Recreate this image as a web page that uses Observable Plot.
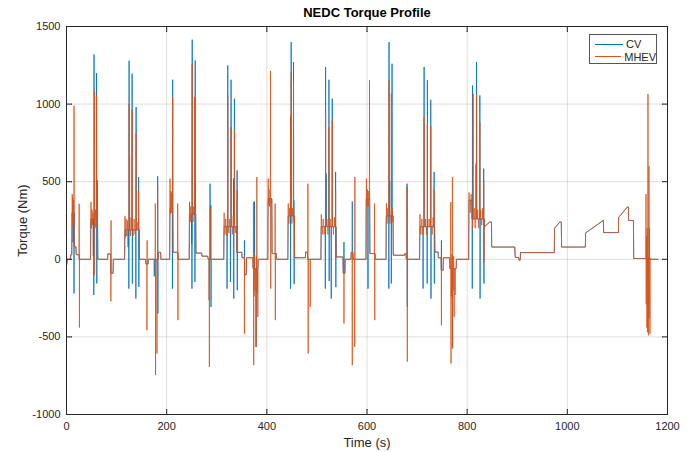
<!DOCTYPE html>
<html>
<head>
<meta charset="utf-8">
<script src="https://cdn.jsdelivr.net/npm/d3@7"></script>
<script src="https://cdn.jsdelivr.net/npm/@observablehq/plot@0.6"></script>
<style>
  body { margin: 0; background: #fff; }
  #wrap { position: relative; width: 697px; height: 452px; font-family: "Liberation Sans", Arial, Helvetica, sans-serif; }
  #legend { position: absolute; left: 589px; top: 34px; width: 68px; height: 30px; box-sizing: border-box;
            border: 1px solid #555; background: #fff; font-size: 11px; color: #262626; padding-top: 3px; }
  .row { display: flex; align-items: center; height: 12.5px; }
  .sw { width: 28px; height: 0; margin-left: 5px; margin-right: 3px; }
</style>
</head>
<body>
<div id="wrap"></div>
<script>
// ---------- data ----------
const seriesNames = ["CV", "MHEV"];
const seriesColors = ["#0072BD", "#D95319"];
const xTicks = [0, 200, 400, 600, 800, 1000, 1200];
const yTicks = [-1000, -500, 0, 500, 1000, 1500];
const title = "NEDC Torque Profile";
const xLabel = "Time (s)";
const yLabel = "Torque (Nm)";

// shared torque profile (plateaus of both vehicles), time in s, torque in Nm
const baseTime = [0,2,8,8.5,10.5,11,15,15.5,19,19.5,25,25.5,48,48.5,62,62.5,82,82.5,88,88.5,93,93.5,116,116.5,145,145.5,158,158.5,163,163.5,183,183.5,188,188.5,
  206,206.5,212.3,212.8,222,223,245,245.5,258,258.5,270,270.5,282,283,314,314.5,340,340.5,350,350.5,355,355.8,359,359.5,372,372.5,382.3,382.8,
  402,402.5,410,410.5,419,419.5,442,442.5,455,455.5,477,477.5,481,481.5,508,508.5,538,538.5,552,552.5,556,556.5,568,568.5,572,572.5,
  598,598.5,605.3,605.8,615.8,616.3,638,638.5,652,652.5,675,675.5,678,678.5,705,705.5,735,735.5,742,742.5,748,748.3,752,752.5,765,765.5,778,778.5,
  803,803.5,809,809.5,834,834.5,845,848.5,849,895,896,903,903.5,906,906.5,974,974.5,977,985,988,988.5,1036,1036.5,1072,1072.5,1102,1102.5,1120,1122,1122.5,1132,1132.5,1166,1166.5,1181];
const baseTorque = [-40,0,0,30,30,300,300,80,80,30,30,0,0,260,260,0,0,35,35,-90,-90,0,0,190,190,0,0,-30,-30,0,0,45,45,0,
  0,330,330,45,45,0,0,290,290,40,40,20,20,0,0,210,210,45,45,10,10,-100,-100,10,10,-60,-60,0,
  0,390,390,37,37,0,0,280,280,10,10,47,47,0,0,210,210,15,15,-90,-90,0,0,45,45,0,
  0,390,390,37,37,0,0,280,280,26,26,37,37,0,0,210,210,47,47,10,10,-70,-70,10,10,-60,-60,0,
  0,380,380,260,260,210,240,240,79,79,12,12,-5,-5,43,43,200,210,240,240,79,79,170,251,172,172,270,337,337,250,250,5,5,0,0];

// CV spikes (time s, torque Nm)
const cvSpikeTime = [13,15,53.5,54.5,55,60,60.5,61.5,123,124.5,125,131,131.5,138.5,139,144,144.5,175.3,182,182.5,
  211.5,212,250,250.5,251,256,256.5,257,286.6,288.2,288.6,320.6,322,327.3,328.6,333.5,334,335.3,340.6,341,355.3,375.3,378.6,
  447.3,448.6,453.3,454,454.5,516.8,517.3,518.6,524,524.5,528.6,530.6,537.3,537.8,554,570.6,
  602,643.6,644,645.3,648.6,650,680,680.5,712,714,720.2,720.6,727.3,727.8,734,734.5,748.6,770.6,
  810.2,810.6,818.6,825.3,825.8,833,833.5];
const cvSpikeTorque = [110,-220,20,-230,1320,1200,-156,510,80,-189,1280,1196,-157,-253,981,530,-178,-110,535,-350,
  -189,1157,100,-189,1415,500,-146,1281,487,348,-307,-189,1249,-146,1157,520,-253,1035,573,-200,122,373,-564,
  -189,1400,1270,380,-160,-189,1239,552,1157,-140,-253,1035,563,-180,111,373,
  -189,-189,1400,505,-156,1260,487,-307,-189,1239,-156,1153,1028,-253,563,-156,122,-564,
  -189,1120,1270,1056,-253,584,-156];

// MHEV spikes (time s, torque Nm)
const mhevSpikeTime = [11.5,12,12.5,13.3,14,14.5,15,25.3,25.8,
  49,50,51,52,53,55.5,56,57,58,59,60,61,88.6,89,
  116.8,118,119,120.5,122,125,126,127.5,129,131,133,135,137,139,141,144,
  160.6,161,177.3,177.8,180.6,182,
  206.8,207.5,208.3,209,210,211,212,222,222.5,
  245.8,247,248,249,251,252.5,254,256,257.5,284.6,285.3,287,
  314.8,316.5,318,320,322,324,326,328.6,331,333,335.3,337,340.6,
  355.3,373.3,373.8,374.5,375.5,376.5,378.6,379.3,380,381,382,
  402.8,403.5,404.5,405.5,407.3,407.8,409,416.6,417,
  442.8,444,445.5,447.3,448.6,450,451.5,453.3,454.3,482,482.6,486.6,
  508.8,510.5,512.5,514.5,517.3,520,522,524,526.5,530.6,533,535,537.3,
  554,570.6,575.3,575.8,
  598.8,600,601,602.5,603.5,605,615,615.5,
  638.8,640,641.5,644,646,648.6,650.5,651.5,680,680.5,
  705.8,707.5,709.5,711.5,714,717,719,720.6,724,727.3,730,732,734,
  748.6,767.3,767.8,768.5,769.5,770.6,771,772,773,774,776,
  803.8,806,808,810.8,812,814,816,817.3,819,821,823,825.3,827,829,831,833,833.5,
  1157,1157.5,1158.5,1159,1159.5,1160,1161,1161.5,1162,1163,1163.5,1164,1165];
const mhevSpikeTorque = [420,210,400,220,380,240,990,358,-440,
  370,200,320,220,300,-103,1090,200,320,210,1050,330,-270,250,
  280,140,260,150,250,1000,660,150,270,960,150,260,160,810,240,444,
  -457,122,359,-746,-607,477,
  520,290,440,300,430,300,1045,359,-392,
  370,240,340,250,1260,240,340,1045,260,-264,-693,330,
  300,160,260,150,1056,170,260,852,160,280,830,170,444,
  -479,370,-682,-240,30,-200,-564,20,530,-220,-371,
  520,350,450,340,1213,-189,360,359,-392,
  360,230,330,927,1206,230,330,1141,240,487,-607,-307,
  290,160,260,160,938,260,160,852,260,895,160,270,444,
  -414,-682,-564,530,
  520,340,450,340,440,1153,359,-392,
  360,230,330,1153,230,1067,330,240,466,-660,
  290,160,260,160,917,260,160,874,260,860,160,270,450,
  -425,369,-671,-240,30,530,-575,-200,20,-371,-230,
  430,300,420,200,1067,330,200,616,1060,320,200,884,320,220,330,510,-20,
  420,-290,150,-440,200,-470,1065,-300,-490,600,-380,200,-480];

// ---------- build series ----------
function buildSeries(spT, spV) {
  const pts = baseTime.map((t, i) => ({t, v: baseTorque[i]}));
  spT.forEach((t, i) => {
    const j = Math.max(0, d3.bisectRight(baseTime, t) - 1);
    const b = baseTorque[j];
    pts.push({t: t - 0.2, v: b}, {t, v: spV[i]}, {t: t + 0.2, v: b});
  });
  return pts.sort((a, b) => a.t - b.t);
}
const cv = buildSeries(cvSpikeTime, cvSpikeTorque);
const mhev = buildSeries(mhevSpikeTime, mhevSpikeTorque);

const axisColor = "#262626";
const fmt = d => String(d);

const chart = Plot.plot({
  width: 697,
  height: 452,
  marginLeft: 66,
  marginRight: 30,
  marginTop: 26,
  marginBottom: 38,
  style: {fontFamily: '"Liberation Sans", Arial, Helvetica, sans-serif', fontSize: "11px", color: axisColor, background: "#fff"},
  x: {domain: [0, 1200]},
  y: {domain: [-1000, 1500]},
  marks: [
    Plot.gridX(xTicks, {stroke: "#000", strokeOpacity: 0.13}),
    Plot.gridY(yTicks, {stroke: "#000", strokeOpacity: 0.13}),
    Plot.line(cv, {x: "t", y: "v", stroke: seriesColors[0], strokeWidth: 0.8}),
    Plot.line(mhev, {x: "t", y: "v", stroke: seriesColors[1], strokeWidth: 0.8}),
    Plot.frame({stroke: axisColor, strokeWidth: 1}),
    // inward tick marks on all four sides
    Plot.vector(xTicks, {x: d => d, frameAnchor: "bottom", length: 5, rotate: 0, anchor: "start", r: 0, stroke: axisColor, strokeWidth: 1}),
    Plot.vector(xTicks, {x: d => d, frameAnchor: "top", length: 5, rotate: 180, anchor: "start", r: 0, stroke: axisColor, strokeWidth: 1}),
    Plot.vector(yTicks, {y: d => d, frameAnchor: "left", length: 5, rotate: 90, anchor: "start", r: 0, stroke: axisColor, strokeWidth: 1}),
    Plot.vector(yTicks, {y: d => d, frameAnchor: "right", length: 5, rotate: -90, anchor: "start", r: 0, stroke: axisColor, strokeWidth: 1}),
    Plot.axisX({ticks: xTicks, tickSize: 0, tickPadding: 8, tickFormat: fmt, label: null, fontSize: 11}),
    Plot.axisY({ticks: yTicks, tickSize: 0, tickPadding: 6, tickFormat: fmt, label: null, fontSize: 11}),
    Plot.text([title], {frameAnchor: "top", lineAnchor: "middle", dy: -14, fontWeight: "bold", fontSize: 13, fill: "#000"}),
    Plot.text([xLabel], {frameAnchor: "bottom", lineAnchor: "middle", dy: 28, fontSize: 13, fill: axisColor}),
    Plot.text([yLabel], {frameAnchor: "left", lineAnchor: "middle", textAnchor: "middle", dx: -44, rotate: -90, fontSize: 13, fill: axisColor})
  ]
});

const wrap = document.getElementById("wrap");
wrap.appendChild(chart);

// legend
const legend = document.createElement("div");
legend.id = "legend";
seriesNames.forEach((name, i) => {
  const row = document.createElement("div");
  row.className = "row";
  const sw = document.createElement("span");
  sw.className = "sw";
  sw.style.borderTop = "1px solid " + seriesColors[i];
  const tx = document.createElement("span");
  tx.textContent = name;
  row.appendChild(sw);
  row.appendChild(tx);
  legend.appendChild(row);
});
wrap.appendChild(legend);
</script>
</body>
</html>
